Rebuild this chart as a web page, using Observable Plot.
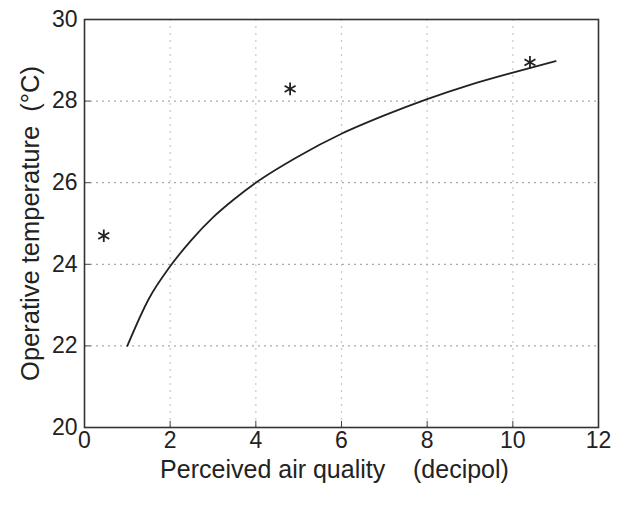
<!DOCTYPE html>
<html>
<head>
<meta charset="utf-8">
<script src="https://cdn.jsdelivr.net/npm/d3@7"></script>
<script src="https://cdn.jsdelivr.net/npm/@observablehq/plot@0.6"></script>
<style>
  html, body { margin: 0; padding: 0; background: #fff; }
  #chart { width: 624px; height: 506px; }
  svg { font-family: "Liberation Sans", Arial, Helvetica, sans-serif; }
</style>
</head>
<body>
<div id="chart"></div>
<script>
// Measured points: perceived air quality (decipol) vs operative temperature (°C)
const measuredX = [0.45, 4.8, 10.4];
const measuredY = [24.7, 28.3, 28.95];

// Fitted curve, sampled along the decipol axis
const curveX = [1, 1.5, 2, 2.5, 3, 3.5, 4, 5, 6, 7, 8, 9, 10, 11];
const curveY = [22.0, 23.15, 23.95, 24.6, 25.15, 25.6, 26.0, 26.65, 27.2, 27.65, 28.05, 28.4, 28.7, 28.98];

// Axis ticks
const xTicks = [0, 2, 4, 6, 8, 10, 12];
const yTicks = [20, 22, 24, 26, 28, 30];

const measured = measuredX.map((x, i) => ({x, y: measuredY[i]}));
const curve = curveX.map((x, i) => ({x, y: curveY[i]}));

const chart = Plot.plot({
  width: 624,
  height: 506,
  marginLeft: 84,
  marginRight: 26,
  marginTop: 19,
  marginBottom: 79,
  style: {fontFamily: '"Liberation Sans", Arial, Helvetica, sans-serif', background: "#fff"},
  x: {type: "linear", domain: [0, 12], axis: null},
  y: {type: "linear", domain: [20, 30], axis: null},
  marks: [
    // dotted grid
    Plot.ruleX(xTicks.slice(1, -1), {x: d => d, stroke: "#c8c8c8", strokeWidth: 1.2, strokeDasharray: "2,5"}),
    Plot.ruleY(yTicks.slice(1, -1), {y: d => d, stroke: "#aaa", strokeWidth: 1.3, strokeDasharray: "2,4"}),
    // short inward tick marks
    Plot.ruleX(xTicks, {x: d => d, y1: 20, y2: 20.15, stroke: "#444", strokeWidth: 1}),
    Plot.ruleY(yTicks, {y: d => d, x1: 0, x2: 0.15, stroke: "#444", strokeWidth: 1}),
    Plot.frame({stroke: "#333", strokeWidth: 1.6}),
    // tick labels
    Plot.text(xTicks, {x: d => d, y: 20, dy: 13, text: d => String(d), fontSize: 23, fill: "#222"}),
    Plot.text(yTicks, {x: 0, y: d => d, dx: -7, textAnchor: "end", text: d => String(d), fontSize: 23, fill: "#222"}),
    // curve and measured points
    Plot.line(curve, {x: "x", y: "y", curve: "monotone-x", stroke: "#222", strokeWidth: 1.8}),
    Plot.dot(measured, {x: "x", y: "y", symbol: "asterisk", r: 6, stroke: "#222", strokeWidth: 1.8}),
    // axis titles
    Plot.text(["Perceived air quality    (decipol)"], {x: 6, y: 20, dx: -7, dy: 42, text: d => d, fontSize: 25, fill: "#222"}),
    Plot.text(["Operative temperature  (°C)"], {x: 0, y: 25, dx: -54, rotate: -90, text: d => d, fontSize: 25.5, fill: "#222"})
  ]
});

document.getElementById("chart").appendChild(chart);
</script>
</body>
</html>
